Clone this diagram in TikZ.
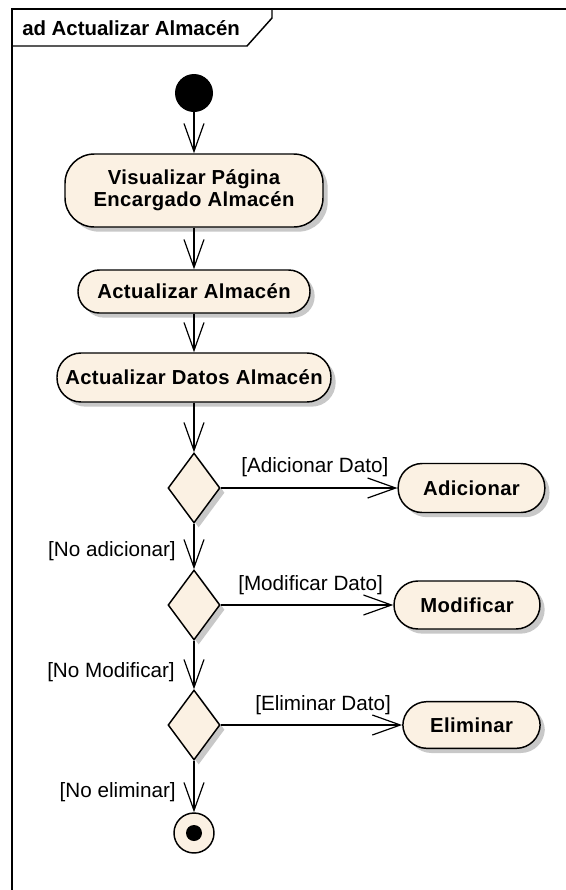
\documentclass[tikz,border=0pt]{standalone}
\usepackage{fontspec}
\setmainfont{Liberation Sans}
\newfontfamily\actfont[LetterSpace=2]{Liberation Sans}
\usetikzlibrary{arrows.meta,shapes.geometric,shadows}
\definecolor{actfill}{RGB}{251,241,227}
\definecolor{shade}{RGB}{200,200,200}
\begin{document}
\begin{tikzpicture}[x=0.75pt,y=-0.75pt,
  shd/.style={drop shadow={shadow xshift=3.5pt,shadow yshift=-3.5pt,fill=shade,opacity=1}},
  act/.style={draw=black, line width=1.1pt, fill=actfill, rounded corners=#1, inner sep=0pt,
    align=center, font=\actfont\fontsize{15.2pt}{16.8pt}\selectfont\bfseries, shd},
  act/.default=16pt,
  dec/.style={diamond, draw=black, line width=1.1pt, fill=actfill, minimum width=39pt,
    minimum height=52.5pt, inner sep=0pt, shd},
  arr/.style={line width=0.9pt, -{Straight Barb[length=21pt,width=15pt,line width=0.9pt]}},
  guard/.style={inner sep=0pt, font=\fontsize{15.5pt}{18pt}\selectfont},
  frameline/.style={line width=1.5pt}
]
\useasboundingbox (0,0) rectangle (566,890);
% frame
\draw[frameline] (12,890) -- (12,9) -- (566,9);
\draw[line width=1.1pt] (12,46) -- (247,46) -- (272,18) -- (272,9);
\node[anchor=base west, inner sep=0pt, font=\fontsize{15.3pt}{18pt}\selectfont\bfseries] (title) at (22,35) {ad Actualizar Almacén};

% nodes
\node[circle, fill=black, minimum size=28.5pt, inner sep=0pt] (init) at (194,93) {};
\node[act=22pt, minimum width=193.5pt, minimum height=54.75pt] (vis) at (194,190.5) {Visualizar Página\\Encargado Almacén};
\node[act, minimum width=174pt, minimum height=32.25pt] (act) at (194,291.5) {Actualizar Almacén};
\node[act=18pt, minimum width=205.5pt, minimum height=36.75pt] (datos) at (194,377.5) {Actualizar Datos Almacén};
\node[dec] (d1) at (194,488) {};
\node[dec] (d2) at (194,605) {};
\node[dec] (d3) at (194,725) {};
\node[act=18pt, minimum width=110pt, minimum height=36.75pt] (adi) at (471.5,488) {Adicionar};
\node[act=18pt, minimum width=109.5pt, minimum height=36pt] (mod) at (467,605) {Modificar};
\node[act=18pt, minimum width=103pt, minimum height=35pt] (eli) at (471.5,725) {Eliminar};
\node[circle, draw=black, line width=1.1pt, fill=actfill, minimum size=30pt, inner sep=0pt] (fin) at (194,833) {};
\node[circle, fill=black, minimum size=12pt, inner sep=0pt] (findot) at (fin) {};

% connectors
\draw[arr] (init) -- (vis);
\draw[arr] (vis) -- (act);
\draw[arr] (act) -- (datos);
\draw[arr] (datos) -- (d1);
\draw[arr] (d1) -- (adi);
\draw[arr] (d1) -- (d2);
\draw[arr] (d2) -- (mod);
\draw[arr] (d2) -- (d3);
\draw[arr] (d3) -- (eli);
\draw[arr] (d3) -- (fin);

% guards
\node[guard, anchor=base west] (g1) at (241,472) {[Adicionar Dato]};
\node[guard, anchor=base east] (g2) at (176,556) {[No adicionar]};
\node[guard, anchor=base west] (g3) at (238,590) {[Modificar Dato]};
\node[guard, anchor=base east] (g4) at (175,677) {[No Modificar]};
\node[guard, anchor=base west] (g5) at (255,710) {[Eliminar Dato]};
\node[guard, anchor=base east] (g6) at (176,797) {[No eliminar]};
\end{tikzpicture}
\end{document}
